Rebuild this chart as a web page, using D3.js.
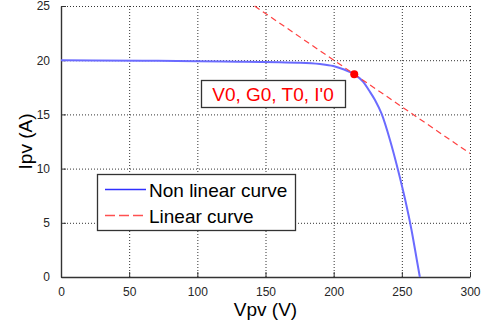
<!DOCTYPE html>
<html lang="en">
<head>
<meta charset="utf-8">
<title>Ipv vs Vpv</title>
<script src="https://d3js.org/d3.v7.min.js"></script>
<style>
	body{ margin: 0; background: white; }
	svg text{ font-family: "Liberation Sans", Arial, sans-serif; }
</style>
</head>
<body>
<div id="chart"></div>
<script>

	/** Data */
	var curveV = [0, 60, 100, 130, 160, 175.3, 190, 199.7, 207.1, 215.1, 221.7, 226, 230.3, 235.2, 241.3, 247.2, 252.5, 257.1, 261.0, 263.2];
	var curveI = [20, 19.95, 19.9, 19.86, 19.8, 19.77, 19.65, 19.46, 19.16, 18.7, 18.0, 17.2, 16.33, 15.04, 12.64, 9.87, 7.1, 4.34, 1.57, 0];
	var linearV = [142, 300];
	var linearI = [25, 11.4];
	var pointV = [215.1];
	var pointI = [18.7];
	var xTicks = [0, 50, 100, 150, 200, 250, 300];
	var yTicks = [0, 5, 10, 15, 20, 25];
	var legendNames = ["Non linear curve", "Linear curve"];
	var pointLabel = "V0, G0, T0, I'0";

	var svgW = 484, svgH = 328;
	var plotL = 61, plotR = 470, plotT = 6, plotB = 277;

	var svg = d3.select("#chart")
		.append("svg")
		.attr("width", svgW)
		.attr("height", svgH);

	var x = d3.scaleLinear().domain([0, 300]).range([plotL, plotR]);
	var y = d3.scaleLinear().domain([0, 25]).range([plotB, plotT]);

	/** Dotted grid */
	svg.selectAll(".vgrid")
		.data(xTicks.slice(1))
		.enter()
		.append("line")
		.attr("class", "vgrid")
		.attr("x1", function(d){ return x(d) + 0.5; })
		.attr("x2", function(d){ return x(d) + 0.5; })
		.attr("y1", plotB)
		.attr("y2", plotT)
		.attr("stroke", "#333")
		.attr("stroke-dasharray", "1,2");

	svg.selectAll(".hgrid")
		.data(yTicks.slice(1))
		.enter()
		.append("line")
		.attr("class", "hgrid")
		.attr("x1", plotL)
		.attr("x2", plotR)
		.attr("y1", function(d){ return y(d) + 0.5; })
		.attr("y2", function(d){ return y(d) + 0.5; })
		.attr("stroke", "#333")
		.attr("stroke-dasharray", "1,2");

	/** Axes */
	var xAxis = svg.append("g")
		.attr("transform", "translate(0," + plotB + ")")
		.call(d3.axisBottom(x).tickValues(xTicks).tickSizeInner(-5).tickSizeOuter(0).tickPadding(10));
	var yAxis = svg.append("g")
		.attr("transform", "translate(" + plotL + ",0)")
		.call(d3.axisLeft(y).tickValues(yTicks).tickSizeInner(-5).tickSizeOuter(0).tickPadding(11));

	[xAxis, yAxis].forEach(function(g){
		g.select(".domain").attr("stroke", "#333").attr("stroke-width", 1.4);
		g.selectAll(".tick line").attr("stroke", "#333");
		g.selectAll(".tick text")
			.attr("fill", "#262626")
			.style("font-size", "12px")
			.style("font-family", "'Liberation Sans', Arial, sans-serif");
	});

	/** Curves */
	var curveData = curveV.map(function(v, i){ return [v, curveI[i]]; });
	var line = d3.line()
		.x(function(d){ return x(d[0]); })
		.y(function(d){ return y(d[1]); })
		.curve(d3.curveMonotoneX);

	svg.append("path")
		.datum(curveData)
		.attr("d", line)
		.attr("fill", "none")
		.attr("stroke", "#6b6bff")
		.attr("stroke-width", 2);

	var linearData = linearV.map(function(v, i){ return [v, linearI[i]]; });
	svg.append("path")
		.datum(linearData)
		.attr("d", d3.line().x(function(d){ return x(d[0]); }).y(function(d){ return y(d[1]); }))
		.attr("fill", "none")
		.attr("stroke", "#ff4040")
		.attr("stroke-width", 1.2)
		.attr("stroke-dasharray", "6,4");

	svg.selectAll(".pt")
		.data(pointV)
		.enter()
		.append("circle")
		.attr("cx", function(d){ return x(d); })
		.attr("cy", function(d, i){ return y(pointI[i]); })
		.attr("r", 4)
		.attr("fill", "red");

	/** Point annotation */
	svg.append("rect")
		.attr("x", 201.5).attr("y", 80.5)
		.attr("width", 144).attr("height", 27)
		.attr("fill", "white")
		.attr("stroke", "#333")
		.attr("stroke-width", 1.3);
	svg.append("text")
		.text(pointLabel)
		.attr("x", 273).attr("y", 101)
		.attr("text-anchor", "middle")
		.attr("fill", "red")
		.style("font-size", "19px");

	/** Legend */
	svg.append("rect")
		.attr("x", 97.5).attr("y", 174.5)
		.attr("width", 198).attr("height", 56)
		.attr("fill", "white")
		.attr("stroke", "#333")
		.attr("stroke-width", 1.3);

	var legendColors = ["#3030ff", "#ff5050"];
	var legendDash = ["none", "10,4"];
	var legendKeys = svg.selectAll(".legend-key")
		.data(legendNames)
		.enter()
		.append("path")
		.attr("class", "legend-key")
		.attr("d", function(d, i){ return "M105," + (189.5 + i * 26) + "H146"; })
		.attr("fill", "none")
		.attr("stroke", function(d, i){ return legendColors[i]; })
		.attr("stroke-width", 1.6)
		.attr("stroke-dasharray", function(d, i){ return legendDash[i]; });

	svg.selectAll(".legend-label")
		.data(legendNames)
		.enter()
		.append("text")
		.attr("class", "legend-label")
		.text(function(d){ return d; })
		.attr("x", 149)
		.attr("y", function(d, i){ return 196.5 + i * 26; })
		.attr("fill", "black")
		.style("font-size", "19px");

	/** Axis labels */
	svg.append("text")
		.text("Vpv (V)")
		.attr("x", (plotL + plotR) / 2).attr("y", 315.5)
		.attr("text-anchor", "middle")
		.style("font-size", "19px");

	svg.append("text")
		.text("Ipv (A)")
		.attr("transform", "translate(32," + (plotT + plotB) / 2 + ") rotate(-90)")
		.attr("text-anchor", "middle")
		.style("font-size", "19px");

</script>
</body>
</html>
